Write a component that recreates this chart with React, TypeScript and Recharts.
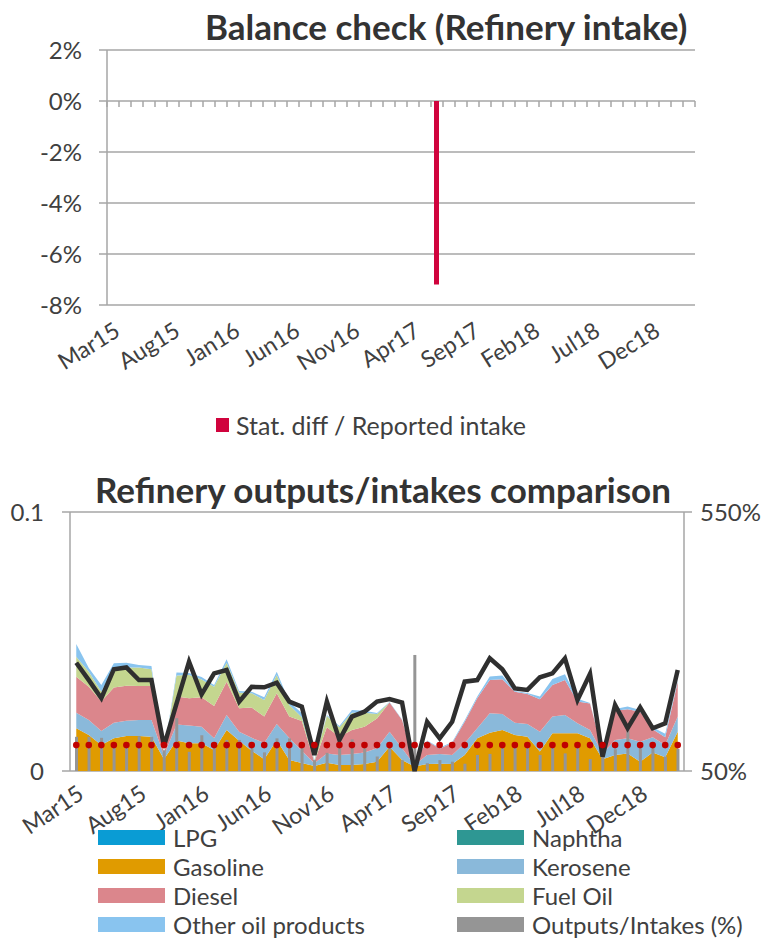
import React from "react";
import {
  ComposedChart,
  Bar,
  Line,
  Area,
  Scatter,
  XAxis,
  YAxis,
  CartesianGrid,
  Legend,
} from "recharts";

const months = [
  "Mar15", "Apr15", "May15", "Jun15", "Jul15", "Aug15", "Sep15", "Oct15", "Nov15", "Dec15",
  "Jan16", "Feb16", "Mar16", "Apr16", "May16", "Jun16", "Jul16", "Aug16", "Sep16", "Oct16", "Nov16", "Dec16",
  "Jan17", "Feb17", "Mar17", "Apr17", "May17", "Jun17", "Jul17", "Aug17", "Sep17", "Oct17", "Nov17", "Dec17",
  "Jan18", "Feb18", "Mar18", "Apr18", "May18", "Jun18", "Jul18", "Aug18", "Sep18", "Oct18", "Nov18", "Dec18",
  "Jan19", "Feb19", "Mar19",
];
const labelTicks = [0, 5, 10, 15, 20, 25, 30, 35, 40, 45];

// top chart: stat. diff / reported intake, in %
const statDiff = [
  0, 0, 0, 0, 0, 0, 0, 0, 0, 0,
  0, 0, 0, 0, 0, 0, 0, 0, 0, 0, 0, 0,
  0, 0, 0, 0, 0, -7.2, 0, 0, 0, 0, 0, 0,
  0, 0, 0, 0, 0, 0, 0, 0, 0, 0, 0, 0,
  0, 0, 0,
];

// bottom chart: outputs (left axis)
const lpg = [
  0, 0, 0, 0, 0, 0, 0, 0, 0, 0,
  0, 0, 0, 0, 0, 0, 0, 0, 0, 0, 0, 0,
  0, 0, 0, 0, 0, 0, 0, 0, 0, 0, 0, 0,
  0, 0, 0, 0, 0, 0, 0, 0, 0, 0, 0, 0,
  0, 0, 0,
];
const naphtha = [
  0, 0, 0, 0, 0, 0, 0, 0, 0, 0,
  0, 0, 0, 0, 0, 0, 0, 0, 0, 0, 0, 0,
  0, 0, 0, 0, 0, 0, 0, 0, 0, 0, 0, 0,
  0, 0, 0, 0, 0, 0, 0, 0, 0, 0, 0, 0,
  0, 0, 0,
];
const gasoline = [
  0.0165, 0.0139, 0.01, 0.0126, 0.0135, 0.0135, 0.0132, 0.0045, 0.0118, 0.0107,
  0.0107, 0.0081, 0.0158, 0.0117, 0.0078, 0.0045, 0.012, 0.0042, 0.0031, 0.0019, 0.0032, 0.0023,
  0.0023, 0.0027, 0.0036, 0.0094, 0.0042, 0.0017, 0.0027, 0.0028, 0.0027, 0.0062, 0.0126, 0.0148,
  0.0158, 0.0139, 0.0132, 0.0075, 0.0146, 0.0146, 0.0146, 0.0126, 0.0045, 0.0062, 0.0068, 0.0036,
  0.0071, 0.0053, 0.0152,
];
const kerosene = [
  0.006, 0.0058, 0.0054, 0.006, 0.0059, 0.0062, 0.0065, 0.0015, 0.0062, 0.0069,
  0.0064, 0.0045, 0.0058, 0.0035, 0.005, 0.0063, 0.0061, 0.0085, 0.0047, 0.0011, 0.0036, 0.0039,
  0.0043, 0.0044, 0.0052, 0.0058, 0.0046, 0.0006, 0.0035, 0.0038, 0.0035, 0.0045, 0.0039, 0.0075,
  0.0062, 0.0047, 0.0049, 0.0077, 0.0064, 0.007, 0.0038, 0.0032, 0.0023, 0.0058, 0.0058, 0.0077,
  0.0059, 0.0047, 0.0058,
];
const diesel = [
  0.0139, 0.0128, 0.0114, 0.0136, 0.0135, 0.0131, 0.0131, 0.0006, 0.0108, 0.0105,
  0.0114, 0.0125, 0.0129, 0.009, 0.0117, 0.0102, 0.0119, 0.0083, 0.0115, 0.0006, 0.0101, 0.007,
  0.0092, 0.01, 0.0115, 0.0112, 0.0109, 0.0008, 0.0054, 0.002, 0.0046, 0.0083, 0.0116, 0.0128,
  0.0134, 0.012, 0.0116, 0.0125, 0.0122, 0.0135, 0.0084, 0.0103, 0.0007, 0.0113, 0.0112, 0.0116,
  0.0031, 0.003, 0.0135,
];
const fuelOil = [
  0.0077, 0.0058, 0.0038, 0.0071, 0.0071, 0.0072, 0.0065, 0.0003, 0.0081, 0.009,
  0.0068, 0.0074, 0.0073, 0.006, 0.0055, 0.0064, 0.0071, 0.0045, 0.0015, 0.0003, 0.0043, 0.0037,
  0.0067, 0.0054, 0.0017, 0, 0, 0, 0, 0, 0, 0, 0, 0,
  0, 0, 0, 0, 0, 0, 0, 0, 0, 0, 0, 0,
  0, 0, 0,
];
const otherProducts = [
  0.0049, 0.0015, 0.0026, 0.0023, 0.0018, 0.0009, 0.0012, 0.0004, 0.0011, 0.0007,
  0.001, 0.0007, 0.0013, 0.0007, 0.0006, 0.0011, 0.0012, 0.0011, 0.0016, 0.0003, 0.0004, 0.0005,
  0.0011, 0.0008, 0.0004, 0.0002, 0.0002, 0.0001, 0.0002, 0.0004, 0.0004, 0.0006, 0.0007, 0.0014,
  0.0015, 0.0003, 0.0004, 0.0011, 0.0023, 0.0023, 0.0011, 0.0002, 0.0004, 0.0006, 0.0011, 0.0007,
  0.0008, 0.0014, 0.0004,
];
const intake = [
  0.0418, 0.0351, 0.0281, 0.0393, 0.04, 0.0351, 0.0351, 0.0096, 0.026, 0.0422,
  0.0296, 0.0377, 0.039, 0.0268, 0.0325, 0.0323, 0.0341, 0.0268, 0.0248, 0.0062, 0.0268, 0.012,
  0.021, 0.0229, 0.0268, 0.0278, 0.0264, 0, 0.019, 0.0126, 0.019, 0.0345, 0.0351, 0.0435,
  0.0393, 0.0319, 0.0313, 0.0362, 0.0377, 0.0435, 0.0274, 0.0375, 0.0055, 0.0255, 0.0165, 0.0246,
  0.0165, 0.0184, 0.039,
];

// bottom chart: right axis, in %
const outputsIntakes = [
  116, 116, 114, 98, 98, 117, 116, 90, 152, 87,
  119, 100, 110, 110, 94, 86, 113, 113, 100, 71, 85, 111,
  111, 94, 78, 94, 71, 274, 65, 71, 68, 64, 81, 83,
  94, 97, 100, 81, 98, 84, 98, 73, 78, 92, 130, 94,
  100, 78, 93,
];
const reference = [
  100, 100, 100, 100, 100, 100, 100, 100, 100, 100,
  100, 100, 100, 100, 100, 100, 100, 100, 100, 100, 100, 100,
  100, 100, 100, 100, 100, 100, 100, 100, 100, 100, 100, 100,
  100, 100, 100, 100, 100, 100, 100, 100, 100, 100, 100, 100,
  100, 100, 100,
];

const balanceData = months.map((m, i) => ({ idx: i, month: m, statDiff: statDiff[i] }));
const outputData = months.map((m, i) => ({
  idx: i,
  month: m,
  lpg: lpg[i],
  naphtha: naphtha[i],
  gasoline: gasoline[i],
  kerosene: kerosene[i],
  diesel: diesel[i],
  fuelOil: fuelOil[i],
  other: otherProducts[i],
  intake: intake[i],
  ratio: outputsIntakes[i],
  reference: reference[i],
}));
// category boundaries, for the tick marks on the 0% line
const boundaries = [...months.map((_, i) => ({ idx: i - 0.5, zero: 0 })), { idx: months.length - 0.5, zero: 0 }];

const GREY = "#A6A6A6";
const TEXT = "#404040";
const FONT = "Lato, 'Open Sans', sans-serif";

const legendOrder = [
  "LPG", "Naphtha", "Gasoline", "Kerosene", "Diesel", "Fuel Oil", "Other oil products", "Outputs/Intakes (%)",
];

function BalanceLegend({ payload }: any) {
  const items = (payload || []).filter((p: any) => p.type !== "none");
  return (
    <div style={{ display: "flex" }}>
      {items.map((p: any) => (
        <div key={p.value} style={{ display: "flex", alignItems: "center", height: 30 }}>
          <span style={{ display: "inline-block", width: 13, height: 14, background: p.color, marginRight: 7 }} />
          <span style={{ fontSize: 25, color: TEXT }}>{p.value}</span>
        </div>
      ))}
    </div>
  );
}

function OutputsLegend({ payload }: any) {
  const items = (payload || [])
    .filter((p: any) => p.type !== "none")
    .sort((a: any, b: any) => legendOrder.indexOf(a.value) - legendOrder.indexOf(b.value));
  return (
    <div style={{ display: "grid", gridTemplateColumns: "359px 320px" }}>
      {items.map((p: any) => (
        <div key={p.value} style={{ display: "flex", alignItems: "center", height: 29 }}>
          <span style={{ display: "inline-block", width: 67, height: 15, background: p.color, marginRight: 8 }} />
          <span style={{ fontSize: 24, color: TEXT, lineHeight: 1 }}>{p.value}</span>
        </div>
      ))}
    </div>
  );
}

const TickMark = (props: any) => (
  <line x1={props.cx} y1={props.cy} x2={props.cx} y2={props.cy + 6} stroke={GREY} strokeWidth={1.5} />
);

export default function App() {
  const tickFont = { fontSize: 24, fill: TEXT };
  const catFont = { fontSize: 23, fill: TEXT, textAnchor: "end" };
  return (
    <div style={{ position: "absolute", left: 0, top: 0, width: 771, height: 939, background: "#fff", fontFamily: FONT, overflow: "hidden" }}>
      <div style={{ position: "absolute", left: 205, top: 5, fontSize: 35, fontWeight: 700, color: "#333", lineHeight: 1.2, whiteSpace: "nowrap" }}>
        Balance check (Refinery intake)
      </div>
      <div style={{ position: "absolute", left: 0, top: 0 }}>
        <ComposedChart width={771} height={460} data={balanceData} margin={{ top: 50, right: 76, bottom: 95, left: 0 }}>
          <CartesianGrid horizontal vertical={false} stroke={GREY} strokeWidth={1.5} />
          <XAxis
            dataKey="idx"
            type="number"
            domain={[-0.5, 48.5]}
            ticks={labelTicks}
            tickFormatter={(v: number) => months[v]}
            axisLine={false}
            tickLine={false}
            tickSize={0}
            tickMargin={16}
            angle={-32}
            tick={catFont}
            height={60}
            interval={0}
          />
          <YAxis
            domain={[-8, 2]}
            ticks={[-8, -6, -4, -2, 0, 2]}
            tickFormatter={(v: number) => `${v}%`}
            width={107}
            tickSize={8}
            tickMargin={17}
            axisLine={{ stroke: GREY, strokeWidth: 1.5 }}
            tickLine={{ stroke: GREY, strokeWidth: 1.5 }}
            tick={tickFont}
            interval={0}
          />
          <Scatter data={boundaries} dataKey="zero" shape={TickMark} legendType="none" isAnimationActive={false} />
          <Bar dataKey="statDiff" name="Stat. diff / Reported intake" fill="#D0033D" barSize={5} isAnimationActive={false} />
          <Legend
            verticalAlign="middle"
            align="center"
            content={<BalanceLegend />}
            wrapperStyle={{ left: 216, top: 410, width: 420 }}
          />
        </ComposedChart>
      </div>

      <div style={{ position: "absolute", left: 95, top: 468, fontSize: 35, fontWeight: 700, color: "#333", lineHeight: 1.2, whiteSpace: "nowrap" }}>
        Refinery outputs/intakes comparison
      </div>
      <div style={{ position: "absolute", left: 0, top: 440 }}>
        <ComposedChart width={771} height={499} data={outputData} margin={{ top: 72, right: 0, bottom: 88, left: 0 }}>
          <CartesianGrid horizontal vertical={false} yAxisId="left" xAxisId="x" stroke={GREY} strokeWidth={1.5} />
          <XAxis
            xAxisId="x"
            dataKey="idx"
            type="number"
            domain={[-0.5, 48.5]}
            ticks={boundaries.map((b) => b.idx)}
            tickFormatter={() => ""}
            axisLine={{ stroke: GREY, strokeWidth: 1.5 }}
            tickLine={{ stroke: GREY, strokeWidth: 1.5 }}
            tickSize={7}
            height={0}
            interval={0}
          />
          <XAxis
            xAxisId="labels"
            dataKey="idx"
            type="number"
            domain={[-0.5, 48.5]}
            ticks={labelTicks}
            tickFormatter={(v: number) => months[v]}
            axisLine={false}
            tickLine={false}
            tickSize={0}
            tickMargin={13}
            angle={-34}
            tick={catFont}
            height={80}
            interval={0}
          />
          <YAxis
            yAxisId="left"
            domain={[0, 0.1]}
            ticks={[0, 0.1]}
            tickFormatter={(v: number) => (v === 0 ? "0" : String(v))}
            width={70}
            tickSize={8}
            tickMargin={18}
            axisLine={{ stroke: GREY, strokeWidth: 1.5 }}
            tickLine={{ stroke: GREY, strokeWidth: 1.5 }}
            tick={tickFont}
            interval={0}
          />
          <YAxis
            yAxisId="right"
            orientation="right"
            domain={[50, 550]}
            ticks={[50, 550]}
            tickFormatter={(v: number) => `${v}%`}
            width={87}
            tickSize={8}
            tickMargin={8}
            axisLine={{ stroke: GREY, strokeWidth: 1.5 }}
            tickLine={{ stroke: GREY, strokeWidth: 1.5 }}
            tick={tickFont}
            interval={0}
          />
          <Area xAxisId="x" yAxisId="left" type="linear" dataKey="lpg" name="LPG" stackId="out" fill="#0A9CD4" stroke="#0A9CD4" strokeWidth={0} fillOpacity={1} isAnimationActive={false} />
          <Area xAxisId="x" yAxisId="left" type="linear" dataKey="naphtha" name="Naphtha" stackId="out" fill="#2E9793" stroke="#2E9793" strokeWidth={0} fillOpacity={1} isAnimationActive={false} />
          <Area xAxisId="x" yAxisId="left" type="linear" dataKey="gasoline" name="Gasoline" stackId="out" fill="#E09B00" stroke="#E09B00" strokeWidth={0} fillOpacity={1} isAnimationActive={false} />
          <Area xAxisId="x" yAxisId="left" type="linear" dataKey="kerosene" name="Kerosene" stackId="out" fill="#8AB9DA" stroke="#8AB9DA" strokeWidth={0} fillOpacity={1} isAnimationActive={false} />
          <Area xAxisId="x" yAxisId="left" type="linear" dataKey="diesel" name="Diesel" stackId="out" fill="#DB868C" stroke="#DB868C" strokeWidth={0} fillOpacity={1} isAnimationActive={false} />
          <Area xAxisId="x" yAxisId="left" type="linear" dataKey="fuelOil" name="Fuel Oil" stackId="out" fill="#C4D68F" stroke="#C4D68F" strokeWidth={0} fillOpacity={1} isAnimationActive={false} />
          <Area xAxisId="x" yAxisId="left" type="linear" dataKey="other" name="Other oil products" stackId="out" fill="#89C4EF" stroke="#89C4EF" strokeWidth={0} fillOpacity={1} isAnimationActive={false} />
          <Bar xAxisId="x" yAxisId="right" dataKey="ratio" name="Outputs/Intakes (%)" fill="#959595" barSize={3} isAnimationActive={false} />
          <Line xAxisId="x" yAxisId="left" type="linear" dataKey="intake" name="Refinery intake" stroke="#2F2F2F" strokeWidth={4.5} dot={false} legendType="none" isAnimationActive={false} />
          <Line
            xAxisId="x"
            yAxisId="right"
            type="linear"
            dataKey="reference"
            name="100%"
            stroke="none"
            dot={{ r: 3.3, fill: "#C00000", stroke: "none" }}
            legendType="none"
            isAnimationActive={false}
          />
          <Legend
            verticalAlign="middle"
            align="center"
            content={<OutputsLegend />}
            wrapperStyle={{ left: 98, top: 383, width: 680 }}
          />
        </ComposedChart>
      </div>
    </div>
  );
}
